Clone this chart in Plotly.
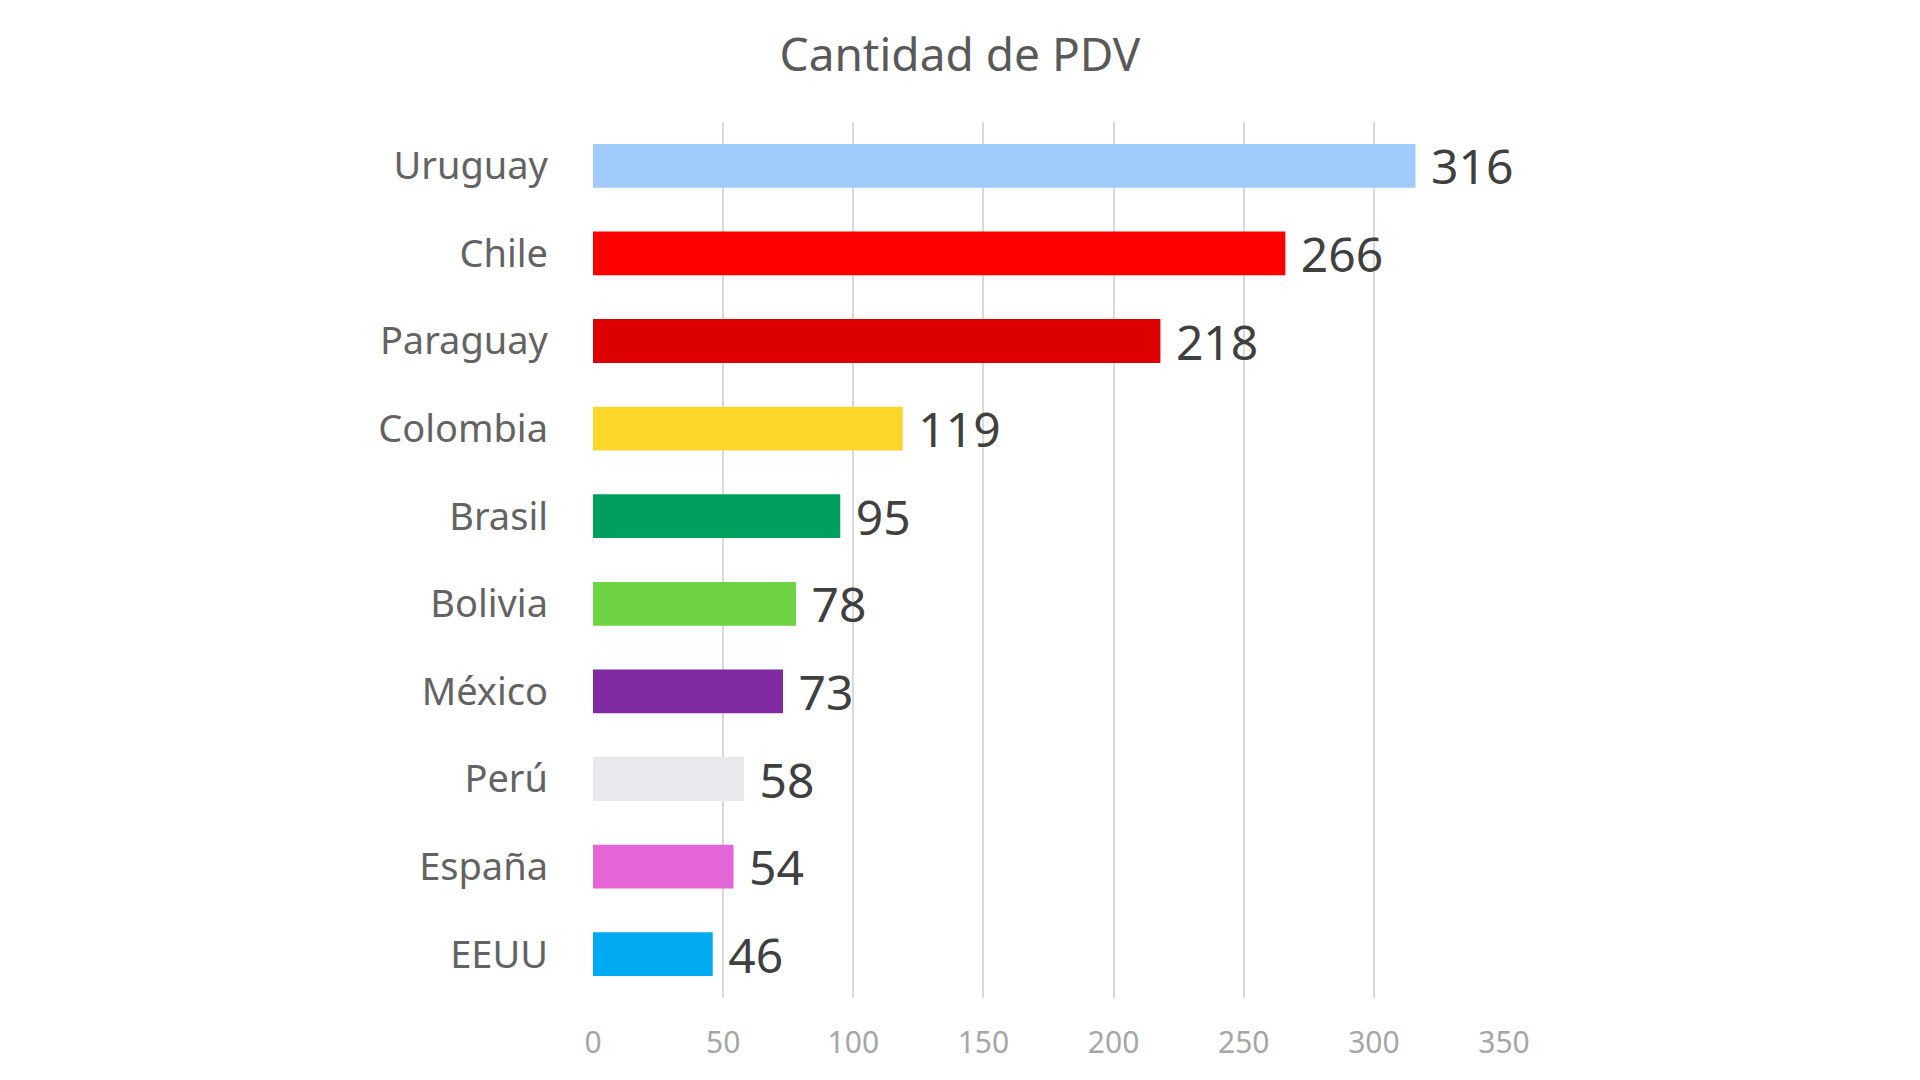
import plotly.graph_objects as go

countries = ["Uruguay", "Chile", "Paraguay", "Colombia", "Brasil", "Bolivia", "México", "Perú", "España", "EEUU"]
values = [316, 266, 218, 119, 95, 78, 73, 58, 54, 46]
colors = ["#9fcbfa", "#ff0000", "#dc0000", "#fdd62b", "#009e5f", "#6fd445", "#7f2aa1", "#e9e8ec", "#e466d6", "#00aaf0"]
x_ticks = [0, 50, 100, 150, 200, 250, 300, 350]
title = "Cantidad de PDV"

FONT = "Noto Sans"

fig = go.Figure(
    go.Bar(
        x=values,
        y=countries,
        orientation="h",
        marker=dict(color=colors, line=dict(width=0)),
        text=values,
        texttemplate=" %{x}",
        textposition="outside",
        textfont=dict(family=FONT, size=48, color="#404040"),
        constraintext="none",
        cliponaxis=False,
        width=0.5,
    )
)

fig.update_layout(
    width=1920,
    height=1080,
    paper_bgcolor="white",
    plot_bgcolor="white",
    margin=dict(l=585, r=424, t=114, b=90),
    showlegend=False,
    title=dict(
        text=title,
        x=952 / 1920,
        xanchor="center",
        y=1 - 47 / 1080,
        yanchor="middle",
        yref="container",
        font=dict(family=FONT, size=46, color="#595959"),
    ),
    xaxis=dict(
        range=[0, 350],
        tickvals=x_ticks,
        showgrid=True,
        gridcolor="#d9d9d9",
        gridwidth=2,
        zeroline=False,
        showline=False,
        ticks="",
        ticklabelstandoff=24,
        tickfont=dict(family=FONT, size=30, color="#a6a6a6"),
        fixedrange=True,
    ),
    yaxis=dict(
        autorange="reversed",
        showgrid=False,
        zeroline=False,
        showline=False,
        ticks="",
        ticklabelstandoff=44,
        tickfont=dict(family=FONT, size=38, color="#636363"),
        fixedrange=True,
    ),
)

fig.write_html("out.html")
